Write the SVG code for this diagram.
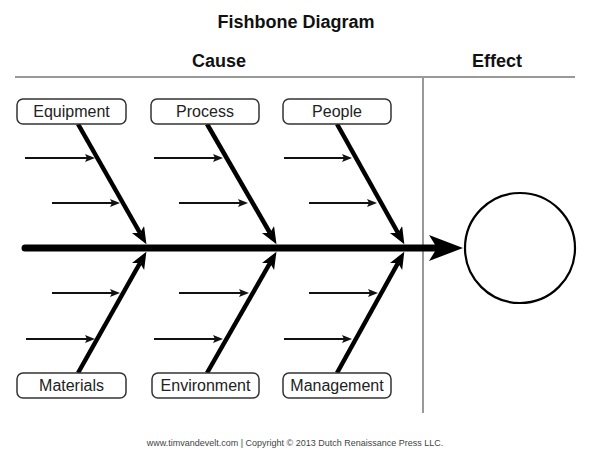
<svg xmlns="http://www.w3.org/2000/svg" width="593" height="458" viewBox="0 0 593 458">
<style>
.hdr{font-family:"Liberation Sans",Arial,sans-serif;font-weight:bold;font-size:18px;fill:#111;text-anchor:middle}
.lbl{font-family:"Liberation Sans",Arial,sans-serif;font-size:16px;fill:#222;text-anchor:middle}
.box{fill:#fff;stroke:#333;stroke-width:1.5}
.bone{stroke:#000;stroke-width:4.5;fill:none}
.sub{stroke:#111;stroke-width:2.2;fill:none}
.rule{stroke:#999;stroke-width:2;fill:none}
</style>
<defs>
<marker id="big" markerUnits="userSpaceOnUse" markerWidth="20" markerHeight="16" refX="4" refY="7" orient="auto">
<path d="M0,0 L17,7 L0,14 L4,7 z" fill="#000"/>
</marker>
<marker id="small" markerUnits="userSpaceOnUse" markerWidth="12" markerHeight="10" refX="2" refY="4" orient="auto">
<path d="M0,0 L10,4 L0,8 L2,4 z" fill="#111"/>
</marker>
</defs>
<rect width="593" height="458" fill="#fff"/>
<text class="hdr" x="296" y="28">Fishbone Diagram</text>
<text class="hdr" x="219" y="67">Cause</text>
<text class="hdr" x="497" y="67">Effect</text>
<g id="rules">
<line class="rule" x1="15" y1="77" x2="575" y2="77"/>
<line class="rule" x1="423" y1="77" x2="423" y2="413"/>
</g>
<g id="connectors">
<line x1="25" y1="248" x2="436" y2="248" stroke="#000" stroke-width="7" stroke-linecap="round"/>
<polygon points="429,235 463,248 429,261 437,248" fill="#000"/>
<line class="bone" x1="78" y1="124" x2="140" y2="233" marker-end="url(#big)"/>
<line class="bone" x1="207" y1="124" x2="270" y2="233" marker-end="url(#big)"/>
<line class="bone" x1="337" y1="124" x2="398" y2="233" marker-end="url(#big)"/>
<line class="bone" x1="78" y1="373" x2="140" y2="263" marker-end="url(#big)"/>
<line class="bone" x1="207" y1="373" x2="270" y2="263" marker-end="url(#big)"/>
<line class="bone" x1="337" y1="373" x2="398" y2="263" marker-end="url(#big)"/>
<line class="sub" x1="25" y1="158" x2="87" y2="158" marker-end="url(#small)"/>
<line class="sub" x1="154" y1="158" x2="215" y2="158" marker-end="url(#small)"/>
<line class="sub" x1="284" y1="158" x2="344" y2="158" marker-end="url(#small)"/>
<line class="sub" x1="52" y1="203" x2="112" y2="203" marker-end="url(#small)"/>
<line class="sub" x1="179" y1="203" x2="240" y2="203" marker-end="url(#small)"/>
<line class="sub" x1="309" y1="203" x2="369" y2="203" marker-end="url(#small)"/>
<line class="sub" x1="52" y1="293" x2="112" y2="293" marker-end="url(#small)"/>
<line class="sub" x1="179" y1="293" x2="241" y2="293" marker-end="url(#small)"/>
<line class="sub" x1="309" y1="293" x2="370" y2="293" marker-end="url(#small)"/>
<line class="sub" x1="26" y1="339" x2="87" y2="339" marker-end="url(#small)"/>
<line class="sub" x1="154" y1="339" x2="215" y2="339" marker-end="url(#small)"/>
<line class="sub" x1="284" y1="339" x2="344" y2="339" marker-end="url(#small)"/>
</g>
<g id="equipment"><rect class="box" x="17" y="99" width="109" height="25" rx="6"/><text class="lbl" x="71.5" y="117">Equipment</text></g>
<g id="process"><rect class="box" x="151" y="99" width="108" height="25" rx="6"/><text class="lbl" x="205" y="117">Process</text></g>
<g id="people"><rect class="box" x="283" y="99" width="108" height="25" rx="6"/><text class="lbl" x="337" y="117">People</text></g>
<g id="materials"><rect class="box" x="17" y="373" width="109" height="25" rx="6"/><text class="lbl" x="71.5" y="391">Materials</text></g>
<g id="environment"><rect class="box" x="152" y="373" width="107" height="25" rx="6"/><text class="lbl" x="205.5" y="391">Environment</text></g>
<g id="management"><rect class="box" x="283" y="373" width="108" height="25" rx="6"/><text class="lbl" x="337" y="391">Management</text></g>
<g id="effect"><circle cx="520" cy="248" r="55" fill="#fff" stroke="#000" stroke-width="2.2"/></g>
<text x="295" y="446" font-family="'Liberation Sans',Arial,sans-serif" font-size="9" fill="#444" text-anchor="middle">www.timvandevelt.com | Copyright © 2013 Dutch Renaissance Press LLC.</text>
</svg>
